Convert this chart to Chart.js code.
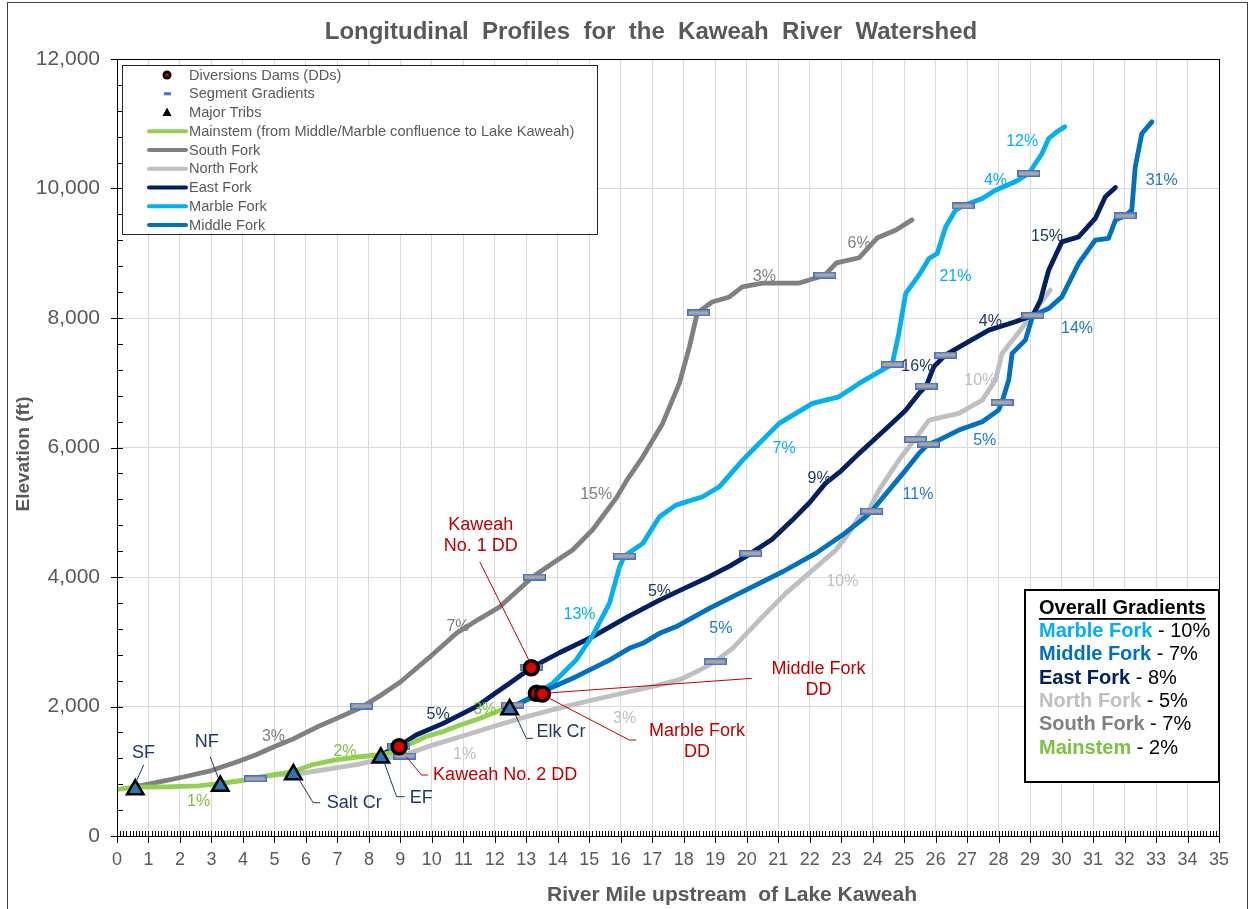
<!DOCTYPE html>
<html>
<head>
<meta charset="utf-8">
<title>Kaweah River longitudinal profiles</title>
<script src="https://cdn.jsdelivr.net/npm/chart.js@4.4.1/dist/chart.umd.min.js"></script>
<style>
  body { margin: 0; background: #fff; }
  canvas { display: block; }
</style>
</head>
<body>
<canvas id="profile" width="1255" height="909"></canvas>
<script>
// river mile (upstream of Lake Kaweah) and elevation (ft) for each reach
const mainstemMiles = [0, 0.58, 1.5, 2.6, 3.28, 4.0, 4.6, 5.2, 5.6, 6.2, 6.9, 7.7, 8.38, 8.8, 9.0, 9.8, 10.4, 10.9, 11.5, 11.94, 12.2, 12.47];
const mainstemElev = [720, 755, 760, 775, 814, 860, 916, 965, 993, 1100, 1173, 1224, 1255, 1300, 1354, 1533, 1620, 1714, 1810, 1895, 1945, 1975];

const southForkMiles = [0.58, 1.0, 1.5, 2.1, 3.0, 3.8, 4.4, 4.97, 5.6, 6.35, 7.0, 7.72, 8.4, 9.0, 9.9, 10.79, 11.5, 12.15, 12.7, 13.2, 13.8, 14.47, 15.1, 15.85, 16.2, 16.7, 17.33, 17.86, 18.18, 18.43, 18.9, 19.45, 19.86, 20.5, 21.67, 22.3, 22.48, 22.85, 23.57, 24.14, 24.74, 25.25];
const southForkElev = [761, 800, 850, 911, 1010, 1143, 1250, 1375, 1500, 1683, 1820, 1977, 2180, 2378, 2750, 3135, 3350, 3537, 3780, 4000, 4200, 4417, 4725, 5214, 5500, 5856, 6372, 6990, 7555, 8077, 8247, 8325, 8480, 8540, 8540, 8633, 8665, 8850, 8930, 9235, 9360, 9515];

const northForkMiles = [3.28, 4.0, 4.55, 5.2, 6.0, 6.8, 7.7, 8.4, 9.1, 10.0, 10.9, 12.0, 13.0, 14.0, 15.1, 16.2, 17.2, 17.9, 18.5, 19.0, 19.55, 20.4, 21.24, 22.09, 22.83, 23.2, 23.57, 23.88, 24.2, 24.62, 24.9, 25.36, 25.79, 26.74, 27.48, 27.9, 28.11, 28.53, 29.01, 29.64];
const northForkElev = [814, 860, 911, 950, 977, 1040, 1110, 1190, 1245, 1400, 1533, 1700, 1842, 1970, 2100, 2220, 2331, 2420, 2560, 2691, 2898, 3335, 3747, 4107, 4416, 4650, 4930, 5033, 5342, 5651, 5850, 6140, 6423, 6526, 6732, 7040, 7453, 7710, 8018, 8430];

const eastForkMiles = [8.4, 8.67, 8.96, 9.5, 10.36, 11.41, 12.0, 12.47, 13.16, 14.05, 15.11, 16.2, 17.23, 18.0, 18.81, 19.5, 20.13, 20.8, 21.45, 22.0, 22.5, 23.0, 23.57, 24.0, 24.62, 25.05, 25.47, 25.7, 25.94, 26.32, 26.95, 27.69, 28.53, 29.09, 29.33, 29.59, 30.01, 30.54, 31.07, 31.39, 31.71];
const eastForkElev = [1255, 1328, 1390, 1560, 1740, 1997, 2200, 2358, 2599, 2830, 3080, 3380, 3644, 3820, 4004, 4180, 4365, 4580, 4879, 5150, 5446, 5640, 5909, 6100, 6380, 6577, 6835, 6948, 7246, 7430, 7607, 7813, 7941, 8040, 8276, 8739, 9176, 9253, 9537, 9871, 10016];

const marbleForkMiles = [12.47, 13.0, 13.32, 13.84, 14.58, 15.11, 15.64, 15.96, 16.12, 16.7, 17.23, 17.75, 18.6, 19.13, 19.87, 20.29, 21.03, 22.09, 22.93, 23.57, 24.2, 24.62, 24.83, 25.05, 25.47, 25.79, 26.05, 26.32, 26.63, 26.87, 27.48, 27.9, 28.53, 28.96, 29.38, 29.59, 29.85, 30.1];
const marbleForkElev = [1975, 2100, 2203, 2358, 2717, 3100, 3593, 4158, 4323, 4519, 4930, 5110, 5239, 5393, 5805, 6011, 6372, 6681, 6783, 6990, 7169, 7283, 7762, 8380, 8662, 8920, 8997, 9408, 9665, 9732, 9846, 9974, 10103, 10232, 10541, 10772, 10875, 10952];

const middleForkMiles = [12.47, 13.0, 13.51, 13.63, 14.58, 15.64, 16.27, 16.7, 17.23, 17.75, 18.81, 19.97, 21.14, 22.19, 23.04, 23.78, 23.97, 24.52, 25.05, 25.47, 25.77, 26.1, 26.74, 27.48, 28.0, 28.11, 28.32, 28.43, 28.85, 29.09, 29.59, 30.01, 30.54, 31.07, 31.49, 31.71, 32.02, 32.23, 32.34, 32.55, 32.87];
const middleForkElev = [1975, 2100, 2193, 2254, 2460, 2717, 2898, 2975, 3130, 3231, 3516, 3798, 4081, 4365, 4647, 4930, 5018, 5342, 5651, 5909, 6052, 6114, 6269, 6397, 6577, 6706, 7040, 7453, 7658, 8040, 8147, 8327, 8842, 9202, 9228, 9511, 9577, 9665, 10334, 10850, 11029];

// diversion dams: Kaweah No. 2, Kaweah No. 1, Marble Fork, Middle Fork
const damMiles = [8.96, 13.16, 13.32, 13.51];
const damElev = [1379, 2599, 2203, 2193];

// major tribs: SF, NF, Salt Cr, EF, Elk Cr
const tribMiles = [0.58, 3.28, 5.6, 8.38, 12.47];
const tribElev = [718, 772, 950, 1207, 1953];

// segment gradient break markers
const segmentMiles = [4.39, 7.77, 8.95, 9.14, 12.57, 13.16, 13.26, 16.12, 19.0, 20.13, 18.47, 22.48, 24.62, 25.7, 26.32, 23.97, 25.36, 25.77, 28.11, 26.87, 28.96, 29.09, 32.02];
const segmentElev = [885, 2007, 1379, 1235, 2023, 2599, 3999, 4323, 2691, 4365, 8080, 8662, 7283, 6948, 7427, 5018, 6125, 6052, 6696, 9732, 10232, 8040, 9577];

const overallNames = ['Marble Fork', 'Middle Fork', 'East Fork', 'North Fork', 'South Fork', 'Mainstem'];
const overallGradients = ['10%', '7%', '8%', '5%', '7%', '2%'];

const colors = {
  main: '#92d050', south: '#808080', north: '#bfbfbf',
  east: '#002060', marble: '#00b0f0', middle: '#0070c0'
};
const textColors = {
  main: '#7dc142', south: '#808080', north: '#bfbfbf',
  east: '#1f3864', marble: '#00b0f0', middle: '#1f78c8'
};

// segment gradient labels [text, mile, elev, reach]
const pctLabels = [
  ['1%', 2.59, 530, 'main'], ['2%', 7.24, 1302, 'main'], ['3%', 11.68, 1956, 'main'],
  ['3%', 4.97, 1533, 'south'], ['7%', 10.83, 3232, 'south'], ['15%', 15.22, 5265, 'south'],
  ['3%', 20.56, 8636, 'south'], ['6%', 23.57, 9151, 'south'],
  ['1%', 11.04, 1251, 'north'], ['3%', 16.12, 1817, 'north'], ['10%', 23.04, 3927, 'north'], ['10%', 27.42, 7040, 'north'],
  ['5%', 10.2, 1868, 'east'], ['5%', 17.23, 3772, 'east'], ['9%', 22.3, 5523, 'east'],
  ['16%', 25.42, 7246, 'east'], ['4%', 27.74, 7941, 'east'], ['15%', 29.54, 9253, 'east'],
  ['13%', 14.69, 3412, 'marble'], ['7%', 21.19, 5986, 'marble'], ['21%', 26.63, 8636, 'marble'],
  ['4%', 27.9, 10129, 'marble'], ['12%', 28.75, 10720, 'marble'],
  ['5%', 19.18, 3207, 'middle'], ['11%', 25.44, 5265, 'middle'], ['5%', 27.56, 6114, 'middle'],
  ['14%', 30.49, 7839, 'middle'], ['31%', 33.18, 10129, 'middle']
];

// callouts: text lines, anchor [mile, elev], alignment, leader path in data units
const callouts = [
  { lines: ['SF'], at: [0.84, 1277], align: 'center', color: '#1f3864', leader: [[0.6, 830], [0.85, 1100]] },
  { lines: ['NF'], at: [2.85, 1456], align: 'center', color: '#1f3864', leader: [[2.96, 1224], [3.22, 891]] },
  { lines: ['Salt Cr'], at: [6.66, 514], align: 'left', color: '#1f3864', leader: [[5.76, 891], [6.23, 514], [6.45, 514]] },
  { lines: ['EF'], at: [9.3, 582], align: 'left', color: '#1f3864', leader: [[8.48, 1147], [8.88, 607], [9.14, 607]] },
  { lines: ['Elk Cr'], at: [13.32, 1610], align: 'left', color: '#1f3864', leader: [[12.63, 1894], [13.0, 1508], [13.21, 1508]] },
  { lines: ['Kaweah No. 2 DD'], at: [10.04, 942], align: 'left', color: '#c00000', leader: [[9.19, 1224], [9.67, 942], [9.88, 942]] },
  { lines: ['Kaweah', 'No. 1 DD'], at: [11.55, 4802], align: 'center', color: '#c00000', leader: [[11.52, 4235], [13.16, 2640]] },
  { lines: ['Middle Fork', 'DD'], at: [22.28, 2574], align: 'center', color: '#c00000', leader: [[13.53, 2203], [20.16, 2435]] },
  { lines: ['Marble Fork', 'DD'], at: [18.42, 1621], align: 'center', color: '#c00000', leader: [[13.53, 2177], [16.27, 1482], [16.49, 1482]] }
];

const FONT = '"Liberation Sans", Arial, sans-serif';

function pts(xs, ys) {
  return xs.map((m, i) => ({ x: m, y: ys[i] }));
}

function reach(label, xs, ys, color, order) {
  return {
    label: label, data: pts(xs, ys), showLine: true,
    borderColor: color, backgroundColor: color, borderWidth: 4.8,
    borderCapStyle: 'round', borderJoinStyle: 'round',
    pointRadius: 0, pointHoverRadius: 0, tension: 0, order: order
  };
}

// horizontal bar used as the segment marker
const segMark = document.createElement('canvas');
segMark.width = 23;
segMark.height = 7;
const sctx = segMark.getContext('2d');
sctx.fillStyle = '#a6a6a6';
sctx.fillRect(0.75, 0.75, 21.5, 5.5);
sctx.strokeStyle = '#4472c4';
sctx.lineWidth = 1.5;
sctx.strokeRect(0.75, 0.75, 21.5, 5.5);

const decorations = {
  id: 'decorations',
  afterDatasetsDraw(chart) {
    const { ctx, scales: { x, y } } = chart;
    const px = m => x.getPixelForValue(m);
    const py = e => y.getPixelForValue(e);
    ctx.save();
    ctx.textBaseline = 'middle';
    // segment percentages
    ctx.font = '16px ' + FONT;
    ctx.textAlign = 'center';
    pctLabels.forEach(l => {
      ctx.fillStyle = textColors[l[3]];
      ctx.fillText(l[0], px(l[1]), py(l[2]));
    });
    // callouts with leader lines
    ctx.font = '18px ' + FONT;
    callouts.forEach(c => {
      ctx.strokeStyle = c.color;
      ctx.lineWidth = 1;
      ctx.beginPath();
      c.leader.forEach((p, i) => {
        if (i) ctx.lineTo(px(p[0]), py(p[1]));
        else ctx.moveTo(px(p[0]), py(p[1]));
      });
      ctx.stroke();
      ctx.fillStyle = c.color;
      ctx.textAlign = c.align;
      c.lines.forEach((t, i) => ctx.fillText(t, px(c.at[0]), py(c.at[1]) + i * 21));
    });
    ctx.restore();
  },
  afterDraw(chart) {
    const { ctx, chartArea: a, scales: { x, y } } = chart;
    ctx.save();
    // plot box
    ctx.strokeStyle = '#000';
    ctx.lineWidth = 1;
    ctx.strokeRect(a.left + 0.5, a.top + 0.5, a.right - a.left, a.bottom - a.top);
    // tick marks, majors cross the axis
    ctx.beginPath();
    for (let i = 0; i <= 350; i++) {
      const X = Math.round(x.getPixelForValue(i / 10)) + 0.5;
      ctx.moveTo(X, a.bottom - 5);
      ctx.lineTo(X, i % 10 === 0 ? a.bottom + 7 : a.bottom);
    }
    for (let i = 0; i <= 30; i++) {
      const Y = Math.round(y.getPixelForValue(i * 400)) + 0.5;
      ctx.moveTo(a.left + 6, Y);
      ctx.lineTo(i % 5 === 0 ? a.left - 6 : a.left, Y);
    }
    ctx.stroke();

    // titles
    ctx.fillStyle = '#595959';
    ctx.textAlign = 'center';
    ctx.textBaseline = 'middle';
    ctx.font = 'bold 24px ' + FONT;
    ctx.fillText('Longitudinal  Profiles  for  the  Kaweah  River  Watershed', 651, 32);
    ctx.font = 'bold 21px ' + FONT;
    ctx.fillText('River Mile upstream  of Lake Kaweah', (a.left + a.right) / 2 + 64, 895);
    ctx.save();
    ctx.translate(24, 454);
    ctx.rotate(-Math.PI / 2);
    ctx.font = 'bold 19px ' + FONT;
    ctx.fillText('Elevation (ft)', 0, 0);
    ctx.restore();

    // legend box
    const lx = a.left + 5, ly = a.top + 6;
    ctx.fillStyle = '#fff';
    ctx.fillRect(lx, ly, 475, 169);
    ctx.strokeStyle = '#262626';
    ctx.strokeRect(lx + 0.5, ly + 0.5, 475, 169);
    const items = [
      ['Diversions Dams (DDs)', 'dam'], ['Segment Gradients', 'seg'], ['Major Tribs', 'trib'],
      ['Mainstem (from Middle/Marble confluence to Lake Kaweah)', colors.main],
      ['South Fork', colors.south], ['North Fork', colors.north], ['East Fork', colors.east],
      ['Marble Fork', colors.marble], ['Middle Fork', colors.middle]
    ];
    ctx.font = '14.6px ' + FONT;
    ctx.textAlign = 'left';
    items.forEach((it, i) => {
      const ry = ly + 10 + i * 18.75;
      const sx = lx + 45;
      if (it[1] === 'dam') {
        ctx.fillStyle = '#000';
        ctx.beginPath(); ctx.arc(sx, ry, 4.5, 0, Math.PI * 2); ctx.fill();
        ctx.fillStyle = '#e00000';
        ctx.beginPath(); ctx.arc(sx, ry, 1.8, 0, Math.PI * 2); ctx.fill();
      } else if (it[1] === 'seg') {
        ctx.fillStyle = '#4472c4';
        ctx.fillRect(sx - 3, ry - 1.5, 7, 3);
      } else if (it[1] === 'trib') {
        ctx.fillStyle = '#000';
        ctx.beginPath(); ctx.moveTo(sx, ry - 5); ctx.lineTo(sx + 4.5, ry + 3.5); ctx.lineTo(sx - 4.5, ry + 3.5); ctx.closePath(); ctx.fill();
      } else {
        ctx.strokeStyle = it[1];
        ctx.lineWidth = 4;
        ctx.lineCap = 'round';
        ctx.beginPath(); ctx.moveTo(lx + 27, ry); ctx.lineTo(lx + 64, ry); ctx.stroke();
      }
      ctx.fillStyle = '#595959';
      ctx.fillText(it[0], lx + 67, ry + 0.5);
    });

    // overall gradients box
    const bx = 1025, by = 590, bw = a.right - bx, bh = 192;
    ctx.fillStyle = '#fff';
    ctx.fillRect(bx, by, bw, bh);
    ctx.strokeStyle = '#000';
    ctx.lineWidth = 2;
    ctx.strokeRect(bx, by, bw, bh);
    const tx = bx + 14;
    ctx.font = 'bold 20px ' + FONT;
    ctx.fillStyle = '#000';
    ctx.fillText('Overall Gradients', tx, 608);
    const uw = ctx.measureText('Overall Gradients').width;
    ctx.fillRect(tx, 618, uw, 1.8);
    const nameColors = [colors.marble, colors.middle, colors.east, colors.north, colors.south, textColors.main];
    overallNames.forEach((n, i) => {
      const ry = 631.5 + i * 23.3;
      ctx.font = 'bold 20px ' + FONT;
      ctx.fillStyle = nameColors[i];
      ctx.fillText(n, tx, ry);
      const w = ctx.measureText(n).width;
      ctx.font = '20px ' + FONT;
      ctx.fillStyle = '#000';
      ctx.fillText(' - ' + overallGradients[i], tx + w, ry);
    });

    // outer chart frame
    ctx.strokeStyle = '#404040';
    ctx.lineWidth = 1;
    ctx.strokeRect(7.5, 2.5, 1240, 1000);
    ctx.restore();
  }
};

const chart = new Chart(document.getElementById('profile').getContext('2d'), {
  type: 'scatter',
  data: {
    datasets: [
      { label: 'Major Tribs', data: pts(tribMiles, tribElev), pointStyle: 'triangle', pointRadius: 9.5,
        backgroundColor: '#2e75b6', borderColor: '#000', borderWidth: 2.5, order: 1 },
      { label: 'Diversions Dams (DDs)', data: pts(damMiles, damElev), pointStyle: 'circle', pointRadius: 7,
        backgroundColor: '#e00000', borderColor: '#000', borderWidth: 3.5, order: 2 },
      { label: 'Segment Gradients', data: pts(segmentMiles, segmentElev), pointStyle: segMark, pointRadius: 5,
        backgroundColor: '#a6a6a6', borderColor: '#4472c4', order: 3 },
      reach('Mainstem (from Middle/Marble confluence to Lake Kaweah)', mainstemMiles, mainstemElev, colors.main, 10),
      reach('Middle Fork', middleForkMiles, middleForkElev, colors.middle, 11),
      reach('Marble Fork', marbleForkMiles, marbleForkElev, colors.marble, 12),
      reach('East Fork', eastForkMiles, eastForkElev, colors.east, 13),
      reach('South Fork', southForkMiles, southForkElev, colors.south, 14),
      reach('North Fork', northForkMiles, northForkElev, colors.north, 15)
    ]
  },
  options: {
    responsive: false,
    animation: false,
    events: [],
    layout: { padding: { top: 59, right: 36, left: 0, bottom: 0 } },
    plugins: { legend: { display: false }, tooltip: { enabled: false } },
    scales: {
      x: {
        type: 'linear', min: 0, max: 35,
        afterFit: s => { s.height = 73; },
        grid: { color: '#d9d9d9', drawTicks: false },
        border: { color: '#000' },
        ticks: { stepSize: 1, autoSkip: false, maxRotation: 0, padding: 13, color: '#595959', font: { family: FONT, size: 18 } }
      },
      y: {
        min: 0, max: 12000,
        afterFit: s => { s.width = 117; },
        grid: { color: '#d9d9d9', drawTicks: false },
        border: { color: '#000' },
        ticks: { stepSize: 2000, padding: 17, color: '#595959', font: { family: FONT, size: 21 },
          callback: v => v.toLocaleString('en-US') }
      }
    }
  },
  plugins: [decorations]
});
</script>
</body>
</html>
